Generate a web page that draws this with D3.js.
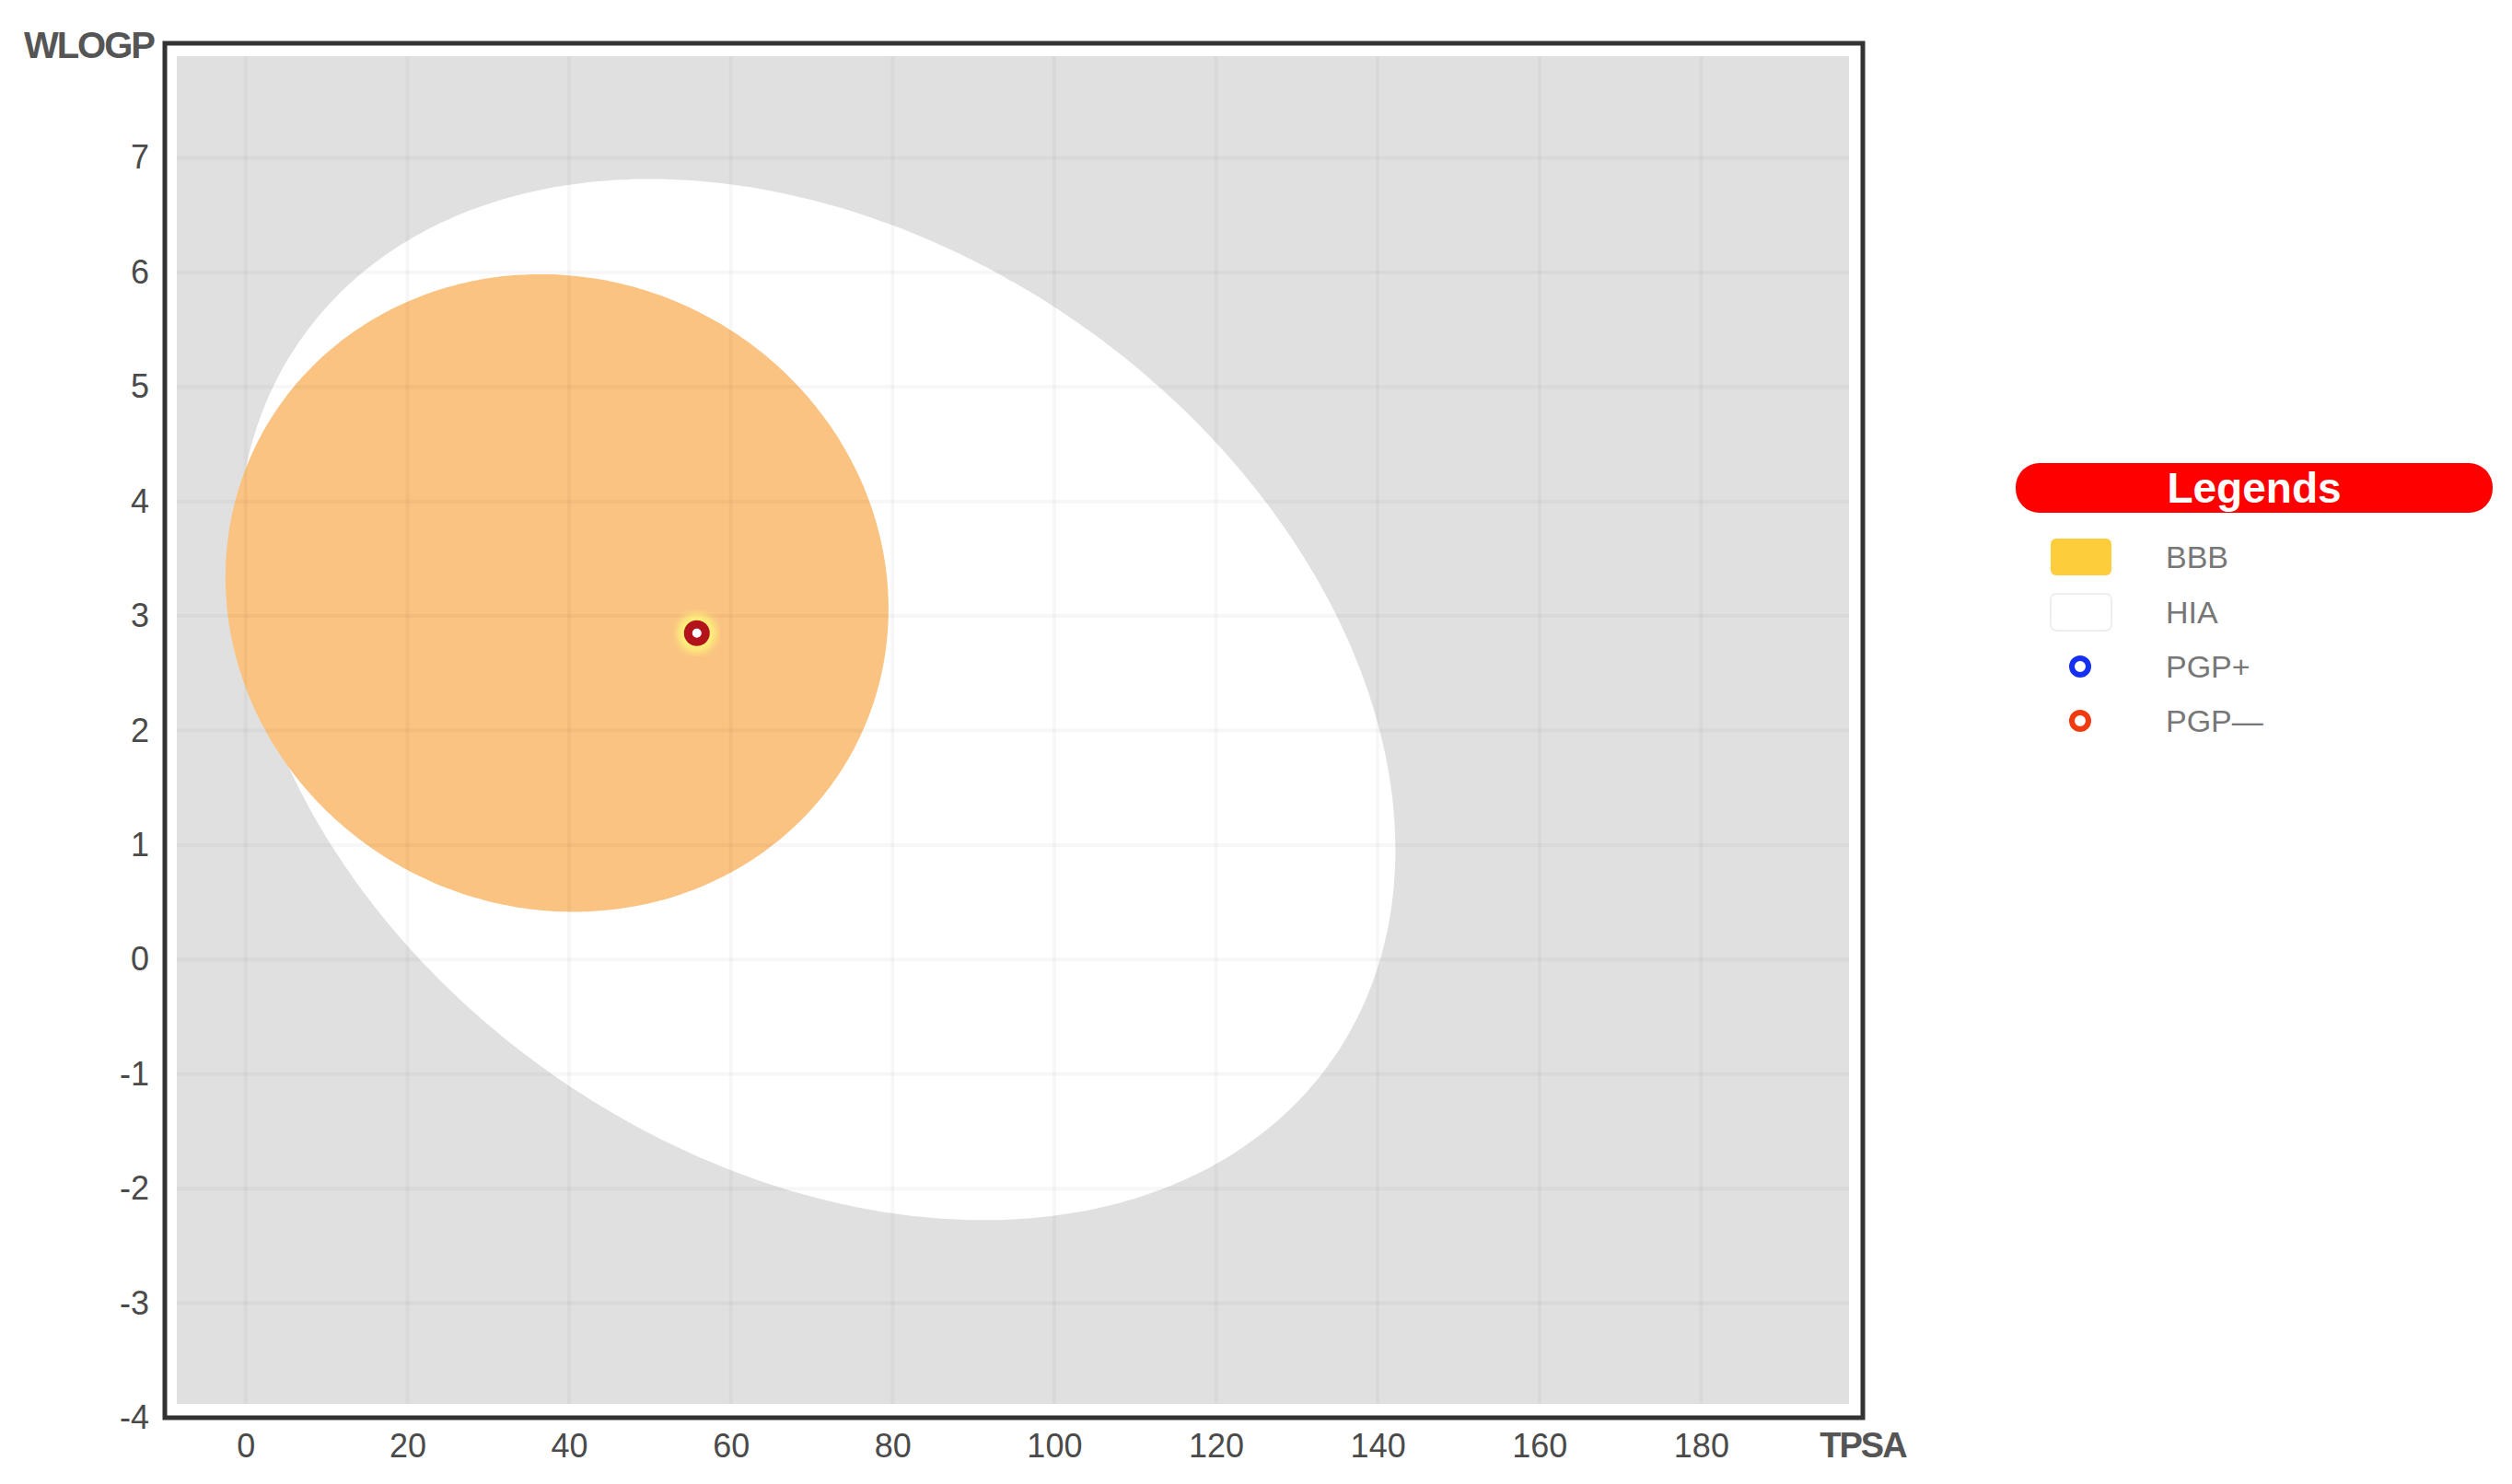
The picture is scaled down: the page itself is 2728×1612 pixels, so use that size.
<!DOCTYPE html>
<html>
<head>
<meta charset="utf-8">
<script src="https://cdn.jsdelivr.net/npm/d3@7.9.0/dist/d3.min.js"></script>
<style>
  body { margin: 0; background: #fff; }
  svg { display: block; font-family: "Liberation Sans", Arial, sans-serif; }
</style>
</head>
<body>
<svg id="chart" width="2728" height="1612"></svg>
<script>
// axis ticks
const xTicks = [0, 20, 40, 60, 80, 100, 120, 140, 160, 180];
const yTicks = [-4, -3, -2, -1, 0, 1, 2, 3, 4, 5, 6, 7];

// egg regions (data units: center, semi-axes, tilt in radians)
const hiaEllipse = { cx: 70.6, cy: 2.27, a: 71.6, b: 4.35, tilt: -0.0184 };
const bbbEllipse = { cx: 38.5, cy: 3.2, a: 41.0, b: 2.78, tilt: -0.0034 };

// molecules
const molNames = ['Molecule 1'];
const molTPSA = [55.8];
const molWLOGP = [2.85];
const molPGP = ['-'];

// legend
const legendLabels = ['BBB', 'HIA', 'PGP+', 'PGP\u2014'];

const svg = d3.select('#chart');

const x = d3.scaleLinear().domain([-10, 200]).range([179, 2023]);
const y = d3.scaleLinear().domain([-4, 8]).range([1540, 47]);

// gray plot area, a bit inset from the frame
svg.append('rect')
  .attr('x', x(-10) + 13).attr('y', y(8) + 14)
  .attr('width', x(200) - x(-10) - 28).attr('height', y(-4) - y(8) - 29)
  .attr('fill', '#e0e0e0');

function ellipsePath(e) {
  const pts = d3.range(0, 360, 1).map(deg => {
    const t = deg * Math.PI / 180;
    const dx = e.a * Math.cos(t), dy = e.b * Math.sin(t);
    return [
      x(e.cx + dx * Math.cos(e.tilt) - dy * Math.sin(e.tilt)),
      y(e.cy + dx * Math.sin(e.tilt) + dy * Math.cos(e.tilt))
    ];
  });
  return d3.line().curve(d3.curveCardinalClosed)(pts);
}

svg.append('path').attr('d', ellipsePath(hiaEllipse)).attr('fill', '#ffffff');
svg.append('path').attr('d', ellipsePath(bbbEllipse)).attr('fill', '#fac382');

// grid on top, faint
const grid = svg.append('g').attr('stroke', '#000').attr('stroke-opacity', 0.032).attr('stroke-width', 4);
xTicks.forEach(v => {
  grid.append('line').attr('x1', x(v)).attr('x2', x(v)).attr('y1', y(8) + 14).attr('y2', y(-4) - 15);
});
yTicks.filter(v => v > -4).forEach(v => {
  grid.append('line').attr('y1', y(v)).attr('y2', y(v)).attr('x1', x(-10) + 13).attr('x2', x(200) - 15);
});

// frame
svg.append('rect')
  .attr('x', x(-10)).attr('y', y(8))
  .attr('width', x(200) - x(-10)).attr('height', y(-4) - y(8))
  .attr('fill', 'none').attr('stroke', '#333').attr('stroke-width', 5);

// axes
const yAxis = svg.append('g')
  .attr('transform', `translate(${x(-10) - 14},0)`)
  .call(d3.axisLeft(y).tickValues(yTicks).tickSize(0).tickFormat(d => String(d)));
const xAxis = svg.append('g')
  .attr('transform', `translate(0,${y(-4) + 14})`)
  .call(d3.axisBottom(x).tickValues(xTicks).tickSize(0).tickFormat(d => String(d)));
[xAxis, yAxis].forEach(g => {
  g.select('.domain').remove();
  g.selectAll('text').attr('fill', '#4a4a4a').attr('font-size', 36).attr('font-family', '"Liberation Sans", Arial, sans-serif');
});

svg.append('text').attr('x', x(-10) - 12).attr('y', y(8) + 16)
  .attr('text-anchor', 'end').attr('font-size', 40).attr('font-weight', 'bold')
  .attr('fill', '#555').attr('letter-spacing', -2).text('WLOGP');
svg.append('text').attr('x', x(200)).attr('y', y(-4) + 43)
  .attr('text-anchor', 'middle').attr('font-size', 38).attr('font-weight', 'bold')
  .attr('fill', '#555').attr('letter-spacing', -2).text('TPSA');

// molecules
const defs = svg.append('defs');
defs.append('filter').attr('id', 'halo').append('feGaussianBlur').attr('stdDeviation', 4);
molNames.forEach((name, i) => {
  const g = svg.append('g').attr('transform', `translate(${x(molTPSA[i])},${y(molWLOGP[i])})`);
  g.append('circle').attr('r', 21).attr('fill', '#fff37a').attr('filter', 'url(#halo)');
  g.append('circle').attr('r', 9.5).attr('fill', '#fff')
    .attr('stroke', molPGP[i] === '+' ? '#1530e0' : '#b3141c').attr('stroke-width', 9);
});

// legend
const lg = svg.append('g');
lg.append('rect').attr('x', 2189).attr('y', 503).attr('width', 518).attr('height', 54)
  .attr('rx', 26).attr('fill', '#ff0000');
lg.append('text').attr('x', 2448).attr('y', 546).attr('text-anchor', 'middle')
  .attr('fill', '#fff').attr('font-size', 46).attr('font-weight', 'bold').text('Legends');

const rowY = [605, 665, 724, 783];
lg.append('rect').attr('x', 2227).attr('y', rowY[0] - 20).attr('width', 66).attr('height', 40)
  .attr('rx', 6).attr('fill', '#fdcd3c');
lg.append('rect').attr('x', 2227).attr('y', rowY[1] - 20).attr('width', 66).attr('height', 40)
  .attr('rx', 6).attr('fill', '#fff').attr('stroke', '#eeeeee').attr('stroke-width', 2);
lg.append('circle').attr('cx', 2259).attr('cy', rowY[2]).attr('r', 9)
  .attr('fill', '#fff').attr('stroke', '#1530f0').attr('stroke-width', 6);
lg.append('circle').attr('cx', 2259).attr('cy', rowY[3]).attr('r', 9)
  .attr('fill', '#fff').attr('stroke', '#f03a10').attr('stroke-width', 6);
legendLabels.forEach((l, i) => {
  lg.append('text').attr('x', 2352).attr('y', rowY[i]).attr('dy', '0.36em')
    .attr('fill', '#777').attr('font-size', 34).text(l);
});
</script>
</body>
</html>
